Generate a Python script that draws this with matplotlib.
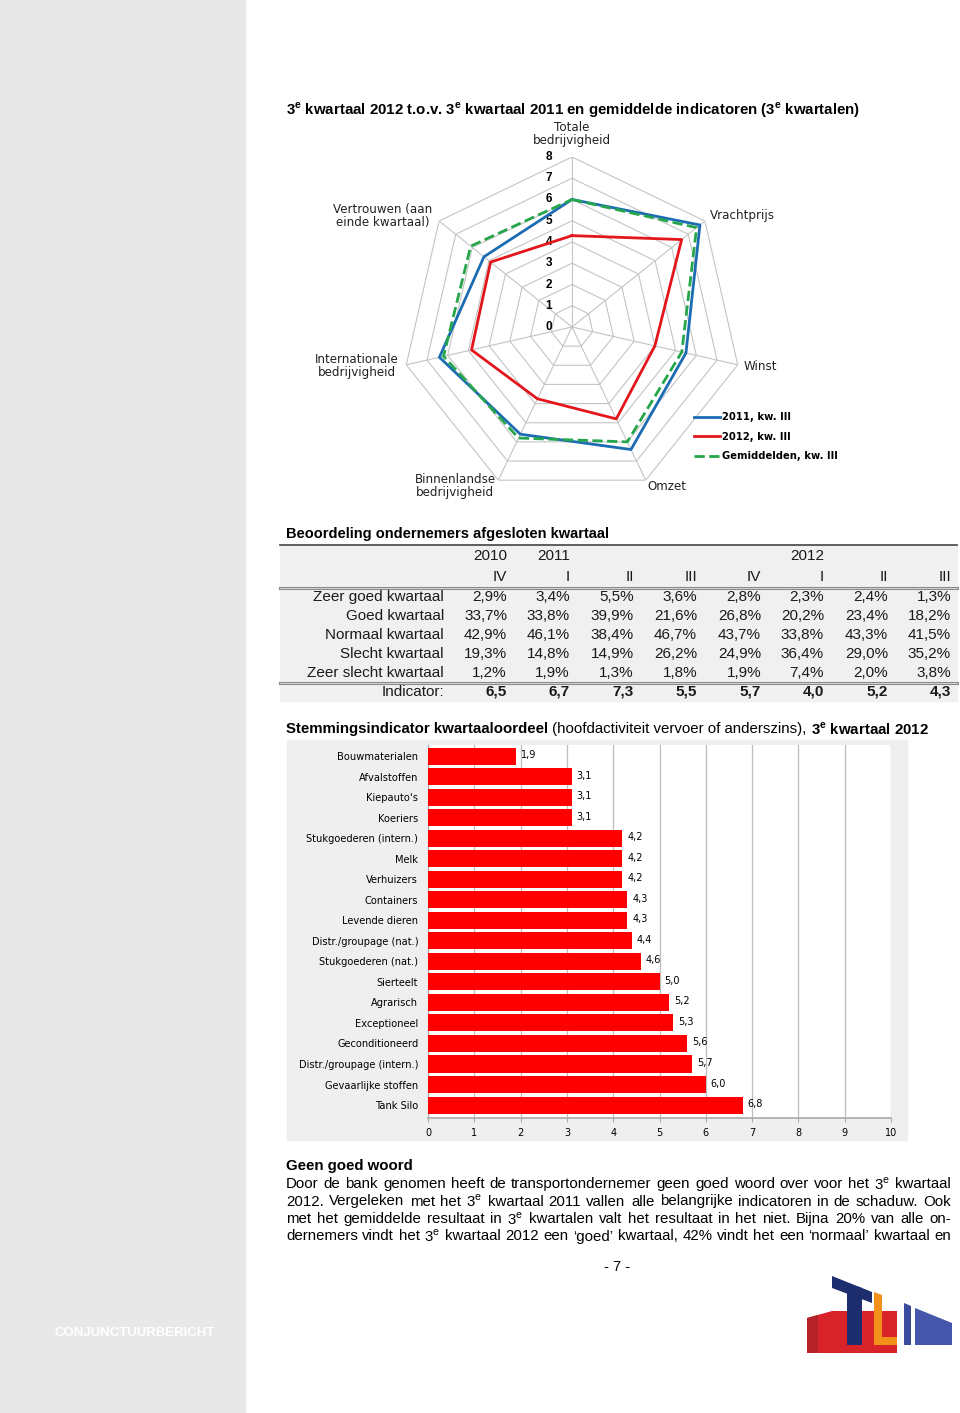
import numpy as np
import matplotlib
matplotlib.use("Agg")
import matplotlib.pyplot as plt
from matplotlib import font_manager
from matplotlib.patches import Rectangle, Polygon
from matplotlib.lines import Line2D

W, H = 960, 1413

installed = {f.name for f in font_manager.fontManager.ttflist}
NARROW = 'Liberation Sans Narrow' if 'Liberation Sans Narrow' in installed else 'Liberation Sans'
plt.rcParams['font.family'] = ['Liberation Sans', 'DejaVu Sans']
plt.rcParams['mathtext.fontset'] = 'custom'
plt.rcParams['mathtext.rm'] = 'Liberation Sans'
plt.rcParams['mathtext.bf'] = 'Liberation Sans:bold'
WIDE = 'DejaVu Sans'

# ---- data ----
radar_axes = ["Totale\nbedrijvigheid", "Vrachtprijs", "Winst", "Omzet",
              "Binnenlandse\nbedrijvigheid", "Internationale\nbedrijvigheid",
              "Vertrouwen (aan\neinde kwartaal)"]
radar_2011 = [6.0, 7.7, 5.5, 6.4, 5.6, 6.4, 5.3]
radar_2012 = [4.3, 6.6, 4.0, 4.8, 3.75, 4.85, 4.9]
radar_gem = [6.0, 7.5, 5.3, 6.0, 5.8, 6.2, 6.1]
radar_names = ["2011, kw. III", "2012, kw. III", "Gemiddelden, kw. III"]

tbl_rows = ["Zeer goed kwartaal", "Goed kwartaal", "Normaal kwartaal",
            "Slecht kwartaal", "Zeer slecht kwartaal"]
tbl_years = ["2010", "2011", "", "", "", "2012", "", ""]
tbl_quarters = ["IV", "I", "II", "III", "IV", "I", "II", "III"]
zeer_goed = [2.9, 3.4, 5.5, 3.6, 2.8, 2.3, 2.4, 1.3]
goed = [33.7, 33.8, 39.9, 21.6, 26.8, 20.2, 23.4, 18.2]
normaal = [42.9, 46.1, 38.4, 46.7, 43.7, 33.8, 43.3, 41.5]
slecht = [19.3, 14.8, 14.9, 26.2, 24.9, 36.4, 29.0, 35.2]
zeer_slecht = [1.2, 1.9, 1.3, 1.8, 1.9, 7.4, 2.0, 3.8]
indicator = [6.5, 6.7, 7.3, 5.5, 5.7, 4.0, 5.2, 4.3]

bar_cats = ["Bouwmaterialen", "Afvalstoffen", "Kiepauto's", "Koeriers",
            "Stukgoederen (intern.)", "Melk", "Verhuizers", "Containers",
            "Levende dieren", "Distr./groupage (nat.)", "Stukgoederen (nat.)",
            "Sierteelt", "Agrarisch", "Exceptioneel", "Geconditioneerd",
            "Distr./groupage (intern.)", "Gevaarlijke stoffen", "Tank Silo"]
bar_vals = [1.9, 3.1, 3.1, 3.1, 4.2, 4.2, 4.2, 4.3, 4.3, 4.4, 4.6,
            5.0, 5.2, 5.3, 5.6, 5.7, 6.0, 6.8]

E = r"3$^{\mathrm{e}}$"
para = [
    "Door de bank genomen heeft de transportondernemer geen goed woord over voor het " + E + " kwartaal",
    "2012. Vergeleken met het " + E + " kwartaal 2011 vallen alle belangrijke indicatoren in de schaduw. Ook",
    "met het gemiddelde resultaat in " + E + " kwartalen valt het resultaat in het niet. Bijna 20% van alle on-",
    "dernemers vindt het " + E + " kwartaal 2012 een \u2018goed\u2019 kwartaal, 42% vindt het een \u2018normaal\u2019 kwartaal en",
]


def fx(x):
    return x / W


def fy(y):
    return 1 - y / H


fig = plt.figure(figsize=(9.6, 14.13), dpi=100)
fig.patch.set_facecolor('white')
R = fig.canvas.get_renderer()


def runs(parts, x, y, **kw):
    for s, weight in parts:
        t = fig.text(fx(x), fy(y), s, fontweight=weight, va='center', **kw)
        x += t.get_window_extent(R).width


def justify(words, y, x0, x1, **kw):
    ts = [fig.text(0, fy(y), w, va='center', **kw) for w in words]
    ws = [t.get_window_extent(R).width for t in ts]
    gap = (x1 - x0 - sum(ws)) / (len(words) - 1)
    x = x0
    for t, w in zip(ts, ws):
        t.set_x(fx(x))
        x += w + gap


# left grey band
fig.add_artist(Rectangle((0, 0), fx(245), 1, transform=fig.transFigure,
                         color='#e8e8e8', zorder=0))
fig.text(fx(135), fy(1333), "CONJUNCTUURBERICHT", color='white',
         fontsize=9.5, fontweight='bold', ha='center', va='center')

# ---- radar ----
runs([("3$^{\\mathbf{e}}$ kwartaal 2012 t.o.v. 3$^{\\mathbf{e}}$ kwartaal 2011 en gemiddelde "
       "indicatoren (3$^{\\mathbf{e}}$ kwartalen)", 'bold')], 286, 110, fontsize=10.8)

cx, cy, rad = 572, 327, 170
ax = fig.add_axes([fx(cx - rad), fy(cy + rad), 2 * rad / W, 2 * rad / H],
                  projection='polar')
ax.set_theta_zero_location('N')
ax.set_theta_direction(-1)
ax.set_ylim(0, 8)
ax.grid(False)
ax.spines['polar'].set_visible(False)
ax.set_xticks([])
ax.set_yticks([])
ax.patch.set_alpha(0)
n = len(radar_axes)
ang = np.linspace(0, 2 * np.pi, n, endpoint=False)
ang_c = np.append(ang, ang[0])
for k in range(1, 9):
    ax.plot(ang_c, [k] * (n + 1), color='#c4c4c4', lw=0.8, zorder=1)
for a in ang:
    ax.plot([a, a], [0, 8], color='#c4c4c4', lw=0.8, zorder=1)
for k in range(0, 9):
    ax.annotate(str(k), (0, k), xytext=(-23, 0), textcoords='offset pixels',
                ha='center', va='center', fontsize=8.5, fontweight='bold')

series = [(radar_2011, '#1b6cb3', '-'), (radar_2012, '#e3161c', '-'),
          (radar_gem, '#25a64b', '--')]
for (vals, col, ls), name in zip(series, radar_names):
    ax.plot(ang_c, vals + vals[:1], color=col, lw=2.0, ls=ls, label=name, zorder=3)

ax.legend(loc='upper left', bbox_to_anchor=(fx(694), fy(412)),
          bbox_transform=fig.transFigure, frameon=False,
          prop={'size': 7.2, 'weight': 'bold', 'family': WIDE}, handlelength=2.6,
          handletextpad=0.2, labelspacing=0.95, borderpad=0, borderaxespad=0)

lab_pos = [(572, 134, 'center'), (710, 216, 'left'), (744, 366, 'left'),
           (667, 487, 'center'), (455, 486, 'center'), (357, 366, 'center'),
           (383, 216, 'center')]
for txt, (x, y, ha) in zip(radar_axes, lab_pos):
    fig.text(fx(x), fy(y), txt, ha=ha, va='center', fontsize=8.6, family=WIDE,
             multialignment='center', linespacing=1.0, color='#222222')

# ---- table ----
fig.text(fx(286), fy(534), "Beoordeling ondernemers afgesloten kwartaal",
         fontsize=10.5, fontweight='bold', va='center', family=NARROW)
fig.add_artist(Rectangle((fx(280), fy(701)), fx(957) - fx(280), fy(545) - fy(701),
                         transform=fig.transFigure, color='#f0f0f0', zorder=0))
fig.add_artist(Line2D([fx(280), fx(957)], [fy(545), fy(545)], color='#444444', lw=1.2))
for yy in (588, 683):
    fig.add_artist(Line2D([fx(280), fx(957)], [fy(yy), fy(yy)], color='#8a8a8a', lw=2.2))
    fig.add_artist(Line2D([fx(280), fx(957)], [fy(yy), fy(yy)], color='#f0f0f0', lw=0.5))

col_x = [507, 570, 634, 697, 761, 824, 888, 951]
tkw = dict(fontsize=11, family=NARROW, va='center', ha='right', color='#1a1a1a')
for x, yr, q in zip(col_x, tbl_years, tbl_quarters):
    fig.text(fx(x), fy(556), yr, **tkw)
    fig.text(fx(x), fy(577), q, **tkw)
tbl_data = [zeer_goed, goed, normaal, slecht, zeer_slecht]
for i, (name, vals) in enumerate(zip(tbl_rows, tbl_data)):
    y = 597 + i * 19
    fig.text(fx(444), fy(y), name, **tkw)
    for x, v in zip(col_x, vals):
        fig.text(fx(x), fy(y), f"{v:.1f}%".replace('.', ','), **tkw)
fig.text(fx(444), fy(692), "Indicator:", **tkw)
for x, v in zip(col_x, indicator):
    fig.text(fx(x), fy(692), f"{v:.1f}".replace('.', ','), fontweight='bold', **tkw)

# ---- bar chart ----
runs([("Stemmingsindicator kwartaaloordeel", 'bold'),
      (" (hoofdactiviteit vervoer of anderszins), ", 'normal'),
      ("3$^{\\mathbf{e}}$ kwartaal 2012", 'bold')], 286, 729, fontsize=10.8, family=NARROW)
fig.add_artist(Rectangle((fx(287), fy(1140)), fx(907) - fx(287), fy(740) - fy(1140),
                         transform=fig.transFigure, color='#efefef', zorder=0))
bx = fig.add_axes([fx(428), fy(1118), fx(891) - fx(428), fy(745) - fy(1118)])
ypos = np.arange(len(bar_cats))
bx.barh(ypos, bar_vals, height=0.83, color='#ff0000', zorder=3)
bx.set_xlim(0, 10)
bx.set_ylim(len(bar_cats) - 1 + 0.63, -0.54)
bx.set_xticks(range(11))
bx.set_yticks(ypos)
bx.set_yticklabels(bar_cats, family=WIDE)
bx.set_xticklabels([str(v) for v in range(11)], family=WIDE)
bx.grid(axis='x', color='#bdbdbd', lw=0.9, zorder=0)
for s in ('top', 'right'):
    bx.spines[s].set_visible(False)
bx.spines['left'].set_color('#aaaaaa')
bx.spines['bottom'].set_color('#aaaaaa')
bx.spines['bottom'].set_linewidth(1.2)
bx.tick_params(axis='x', length=3, color='#aaaaaa', labelsize=7, pad=4)
bx.tick_params(axis='y', length=0, labelsize=7.1, pad=7)
for yv, v in zip(ypos, bar_vals):
    bx.annotate(f"{v:.1f}".replace('.', ','), (v, yv), xytext=(5, 1),
                textcoords='offset pixels', va='center', ha='left', fontsize=7,
                family=WIDE)

# ---- text ----
fig.text(fx(286), fy(1166), "Geen goed woord", fontsize=10.8, fontweight='bold',
         va='center', family=NARROW)
for i, line in enumerate(para):
    justify(line.split(' '), 1184 + i * 17.5, 286, 951, fontsize=10.8, family=NARROW)
fig.text(fx(617), fy(1267), "- 7 -", fontsize=10.5, ha='center', va='center', family=NARROW)

# ---- logo ----
def poly(pts, col):
    fig.add_artist(Polygon([(fx(x), fy(y)) for x, y in pts], closed=True,
                           transform=fig.transFigure, color=col, lw=0))

poly([(807, 1318), (832, 1311), (897, 1311), (897, 1353), (807, 1353)], '#d9232a')
poly([(807, 1318), (818, 1315), (818, 1353), (807, 1353)], '#b52228')
poly([(832, 1276), (872, 1292), (872, 1303), (832, 1288)], '#1d2d6e')
poly([(847, 1283), (862, 1288), (862, 1345), (847, 1345)], '#1d2d6e')
poly([(874, 1292), (882, 1295), (882, 1337), (897, 1337), (897, 1345), (874, 1345)], '#f39019')
poly([(904, 1303), (911, 1306), (911, 1345), (904, 1345)], '#3a4a9c')
poly([(915, 1308), (952, 1323), (952, 1345), (915, 1345)], '#4657ab')

fig.savefig('out.png', dpi=100)
